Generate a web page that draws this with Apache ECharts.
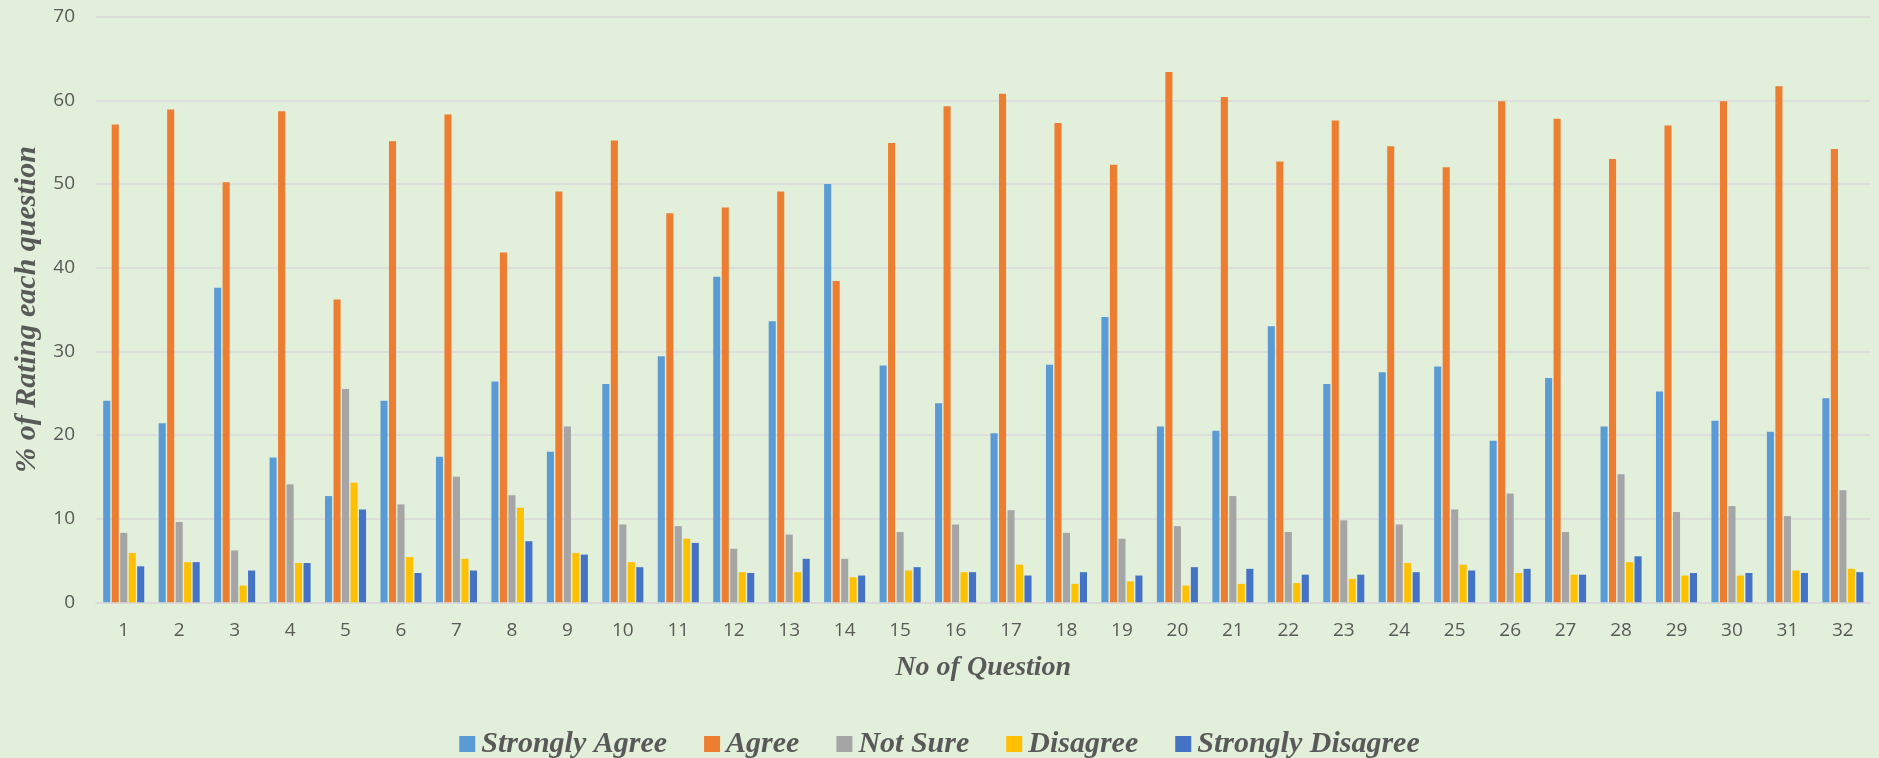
<!DOCTYPE html>
<html>
<head>
<meta charset="utf-8">
<script src="https://cdn.jsdelivr.net/npm/echarts@6/dist/echarts.min.js"></script>
<style>
html,body{margin:0;padding:0;background:#E2EFDA;}
#chart{width:1879px;height:758px;}
</style>
</head>
<body>
<div id="chart"></div>
<script>
const categories = ['1','2','3','4','5','6','7','8','9','10','11','12','13','14','15','16','17','18','19','20','21','22','23','24','25','26','27','28','29','30','31','32'];
const seriesNames = ['Strongly Agree','Agree','Not Sure','Disagree','Strongly Disagree'];
const stronglyAgree = [24.1,21.4,37.6,17.3,12.7,24.1,17.4,26.4,18.0,26.1,29.4,38.9,33.6,50.0,28.3,23.8,20.2,28.4,34.1,21.0,20.5,33.0,26.1,27.5,28.2,19.3,26.8,21.0,25.2,21.7,20.4,24.4];
const agree = [57.1,58.9,50.2,58.7,36.2,55.1,58.3,41.8,49.1,55.2,46.5,47.2,49.1,38.4,54.9,59.3,60.8,57.3,52.3,63.4,60.4,52.7,57.6,54.5,52.0,59.9,57.8,53.0,57.0,59.9,61.7,54.2];
const notSure = [8.3,9.6,6.2,14.1,25.5,11.7,15.0,12.8,21.0,9.3,9.1,6.4,8.1,5.2,8.4,9.3,11.0,8.3,7.6,9.1,12.7,8.4,9.8,9.3,11.1,13.0,8.4,15.3,10.8,11.5,10.3,13.4];
const disagree = [5.9,4.8,2.0,4.7,14.3,5.4,5.2,11.3,5.9,4.8,7.6,3.6,3.6,3.0,3.8,3.6,4.5,2.2,2.5,2.0,2.2,2.3,2.8,4.7,4.5,3.5,3.3,4.8,3.2,3.2,3.8,4.0];
const stronglyDisagree = [4.3,4.8,3.8,4.7,11.1,3.5,3.8,7.3,5.7,4.2,7.1,3.5,5.2,3.2,4.2,3.6,3.2,3.6,3.2,4.2,4.0,3.3,3.3,3.6,3.8,4.0,3.3,5.5,3.5,3.5,3.5,3.6];
const yTicks = [0,10,20,30,40,50,60,70];

const colors = ['#5B9BD5','#ED7D31','#A5A5A5','#FFC000','#4472C4'];
const values = [stronglyAgree, agree, notSure, disagree, stronglyDisagree];

const serifTitle = {fontFamily:'Liberation Serif', fontStyle:'italic', fontWeight:'bold', color:'#595959'};

const chart = echarts.init(document.getElementById('chart'), null, {renderer:'canvas'});
chart.setOption({
  backgroundColor:'#E2EFDA',
  animation:false,
  color: colors,
  grid:{left:96, right:8.4, top:16.7, bottom:155.7, containLabel:false},
  legend:{
    data: seriesNames,
    left:'center',
    top:724,
    icon:'rect',
    itemWidth:16,
    itemHeight:16,
    itemGap:37,
    textStyle:Object.assign({fontSize:30, padding:[0,0,0,1]}, serifTitle)
  },
  xAxis:{
    type:'category',
    data: categories,
    name:'No of Question',
    nameLocation:'middle',
    nameGap:51,
    nameTextStyle:Object.assign({fontSize:28}, serifTitle),
    axisLine:{show:true, lineStyle:{color:'#D9D9D9', width:1.5}},
    axisTick:{show:false},
    axisLabel:{fontFamily:'Open Sans', fontSize:19, color:'#595959', margin:19}
  },
  yAxis:{
    type:'value',
    min:0, max:70, interval:10,
    name:'% of Rating each question',
    nameLocation:'middle',
    nameRotate:90,
    nameGap:50,
    nameTextStyle:Object.assign({fontSize:30}, serifTitle),
    axisLine:{show:false},
    axisTick:{show:false},
    splitLine:{lineStyle:{color:'#D9D9D9', width:1.5}},
    axisLabel:{fontFamily:'Open Sans', fontSize:19, color:'#595959', margin:21,
      formatter: v => yTicks.includes(v) ? String(v) : ''}
  },
  series: seriesNames.map((n,i)=>({
    name:n,
    type:'bar',
    data: values[i],
    barCategoryGap:'26%',
    barGap:'20%',
    itemStyle:{color:colors[i]}
  }))
});
</script>
</body>
</html>
